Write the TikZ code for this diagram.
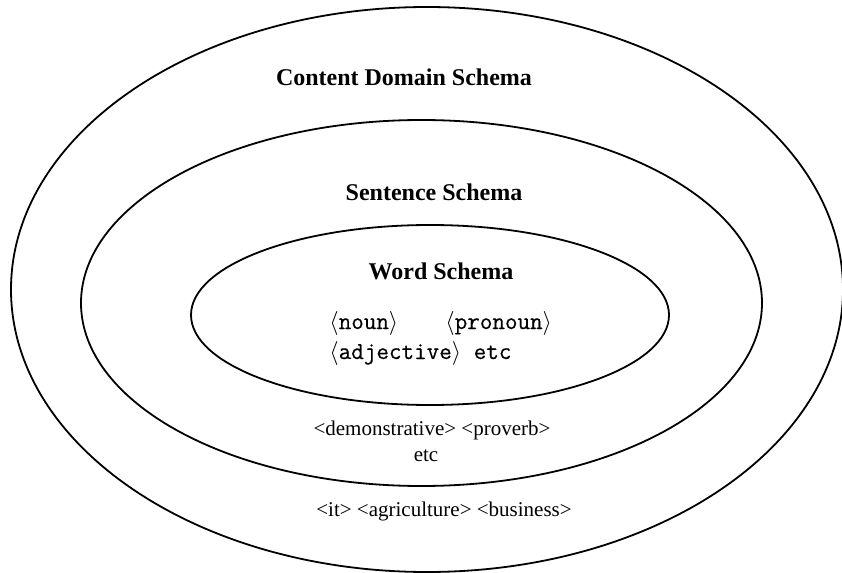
\documentclass[tikz,border=0pt]{standalone}
\usepackage{fontspec}
\setmainfont{Liberation Serif}
\newfontfamily\slotfont[FakeBold=0.5]{Latin Modern Mono}
\usetikzlibrary{shapes.geometric}
\tikzset{schema/.style={ellipse,draw=black,line width=0.9pt,fill=none,
inner sep=0pt}}
\tikzset{schematitle/.style={inner sep=0pt,font=\bfseries\fontsize{12}{14}\selectfont}}
\tikzset{schemaslot/.style={inner sep=0pt,anchor=west,font=\slotfont\fontsize{12.2}{14}\selectfont}}
\tikzset{schemanote/.style={inner sep=0pt,font=\fontsize{10.5}{12}\selectfont}}

\begin{document}
\begin{tikzpicture}[x=0.5pt,y=-0.5pt]
    \useasboundingbox (0,0) rectangle (842,573);

        \node[schema, minimum width=416pt, minimum height=282.5pt] (contentring) at (427, 289.5) {};
        \node[schema, minimum width=340.5pt, minimum height=183pt] (sentencering) at (421.5, 303) {};
        \node[schema, minimum width=239pt, minimum height=90pt] (wordring) at (430, 315) {};

        \node[schematitle] (contenttitle) at (404, 77) {Content Domain Schema};
        \node[schematitle] (sentencetitle) at (434, 192) {Sentence Schema};
        \node[schematitle] (wordtitle) at (441, 271) {Word Schema};

        \node[schemaslot] (noun) at (329, 323) {$\langle$noun$\rangle$};
        \node[schemaslot] (pronoun) at (445, 323) {$\langle$pronoun$\rangle$};
        \node[schemaslot] (adjective) at (329, 353) {$\langle$adjective$\rangle$ etc};

        \node[schemanote] (sentenceslots) at (432, 430) {<demonstrative> <proverb>};
        \node[schemanote] (sentenceetc) at (426, 456) {etc};
        \node[schemanote] (contentslots) at (444, 511) {<it> <agriculture> <business>};

    \end{tikzpicture}
\end{document}
